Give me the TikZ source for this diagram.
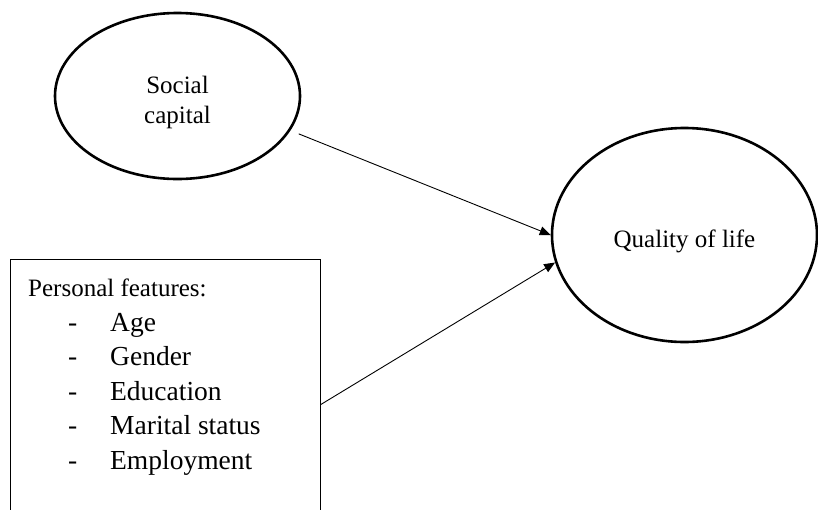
\documentclass[tikz,border=0pt]{standalone}
\usepackage{fontspec}
\setmainfont{Liberation Serif}
\usetikzlibrary{shapes.geometric,arrows.meta}
\newcommand{\featitem}[1]{{\fontsize{27.5}{34.5}\selectfont\hspace*{40pt}\makebox[42pt][l]{-}#1}}

\begin{document}
\begin{tikzpicture}[x=1pt,y=-1pt]
\tikzstyle{every node}+=[inner sep=0pt]
\tikzstyle{oval}=[draw,ellipse,line width=2.6pt,align=center,font=\fontsize{25}{30}\selectfont]
\tikzstyle{link}=[-{Triangle[length=11pt,width=9pt]},line width=0.9pt]
\tikzstyle{item}=[font=\fontsize{25}{34.5}\selectfont,align=left]
\useasboundingbox (0,0) rectangle (818,509);
\clip (0,0) rectangle (818,509);
\node[oval,minimum width=245,minimum height=166,text height=54pt,text depth=0pt] (soc) at (177.5,96) {Social\\capital};
\node[oval,minimum width=265,minimum height=214,text height=24pt,text depth=0pt] (qol) at (684.5,235) {Quality of life};
\node[draw,line width=0.9pt,minimum width=310,minimum height=290,anchor=north west] (feat) at (10,259) {};
\node[item,anchor=north west] (featlist) at (28,279) {Personal features:\\
\featitem{Age}\\
\featitem{Gender}\\
\featitem{Education}\\
\featitem{Marital status}\\
\featitem{Employment}};
\draw[link,shorten <=9pt] (soc.-17) -- (qol.west);
\draw[link] (feat.east) -- (qol.192);
\end{tikzpicture}
\end{document}
